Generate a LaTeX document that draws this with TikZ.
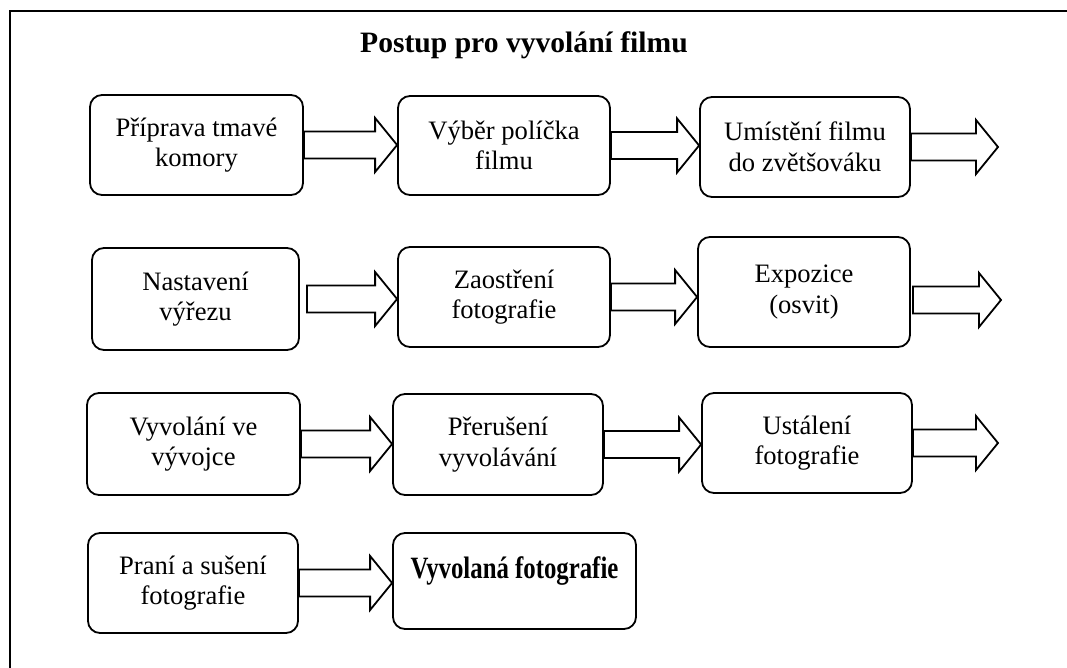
\documentclass[tikz,border=0pt]{standalone}
\usepackage{fontspec}
\setmainfont{Liberation Serif}
\usetikzlibrary{calc}

\newcommand{\flowarrow}[2]{%
  \draw[flow] let \p1=(#1), \p2=(#2) in
    (\x1,\y1+13.5pt) -- (\x2-22pt,\y1+13.5pt) -- (\x2-22pt,\y1+27pt) -- (\x2,\y1)
    -- (\x2-22pt,\y1-27pt) -- (\x2-22pt,\y1-13.5pt) -- (\x1,\y1-13.5pt) -- cycle;}

\begin{document}
\begin{tikzpicture}[x=1pt, y=-1pt,
  box/.style={draw, line width=1.8pt, rounded corners=12pt, align=center, inner sep=2pt,
    font=\fontsize{26.6}{30.5}\selectfont},
  sz/.style 2 args={minimum width=#1pt, minimum height=#2pt},
  flow/.style={draw, fill=white, line width=1.8pt, line join=miter}]
\useasboundingbox (0,0) rectangle (1067,668);
\draw[line width=1.8pt] (10,11) rectangle (1100,700);
\node[anchor=base, font=\fontsize{29.6}{34}\selectfont\bfseries] (title) at (524,53) {Postup pro vyvolání filmu};

% row 1
\node[box, sz={213}{100}] (a1) at (196.5,145) {Příprava tmavé\\komory};
\node[box, sz={212}{99}]  (a2) at (504,145.5) {Výběr políčka\\filmu};
\node[box, sz={210}{100}] (a3) at (805,147) {Umístění filmu\\do zvětšováku};
\coordinate (a4) at (998,145);

% row 2
\node[box, sz={207}{102}] (b1) at (195.5,299) {Nastavení\\výřezu};
\node[box, sz={212}{100}] (b2) at (504,297) {Zaostření\\fotografie};
\node[box, sz={212}{110}] (b3) at (804,292) {Expozice\\(osvit)};
\coordinate (b4) at (1001,300);

% row 3
\node[box, sz={213}{102}] (c1) at (193.5,444) {Vyvolání ve\\vývojce};
\node[box, sz={210}{101}] (c2) at (498,444.5) {Přerušení\\vyvolávání};
\node[box, sz={210}{100}] (c3) at (807,443) {Ustálení\\fotografie};
\coordinate (c4) at (998,441);

% row 4
\node[box, sz={210}{100}] (d1) at (193,583) {Praní a sušení\\fotografie};
\node[box, sz={243}{96}, text height=21pt, text depth=27pt,
  font=\fontsize{31}{34}\selectfont\bfseries] (d2) at (514.5,581)
  {\scalebox{0.8}[1]{Vyvolaná fotografie}};

\flowarrow{a1.east}{a2.west}
\flowarrow{a2.east}{a3.west}
\flowarrow{a3.east}{a4}
\flowarrow{[xshift=7pt]b1.east}{b2.west}
\flowarrow{b2.east}{b3.west}
\flowarrow{[shift={(2pt,-8pt)}]b3.east}{b4}
\flowarrow{c1.east}{c2.west}
\flowarrow{c2.east}{c3.west}
\flowarrow{c3.east}{c4}
\flowarrow{d1.east}{d2.west}
\end{tikzpicture}
\end{document}
